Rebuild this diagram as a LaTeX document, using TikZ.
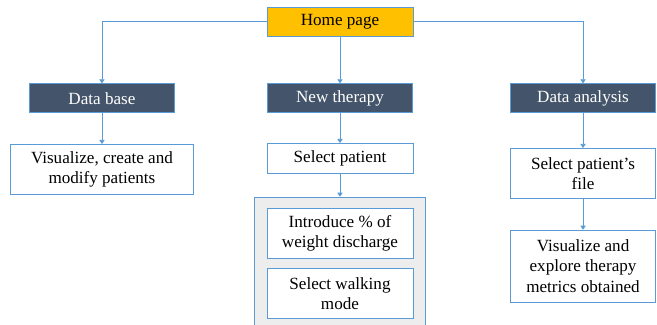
\documentclass[tikz,border=0pt]{standalone}
\usepackage{fontspec}
\setmainfont{Liberation Serif}
\usepackage{tikz}
\usetikzlibrary{positioning, arrows.meta}
\definecolor{homeyellow}{RGB}{255, 192, 0}
\definecolor{slatebox}{RGB}{68, 84, 106}
\definecolor{linkblue}{RGB}{91, 155, 213}
\definecolor{groupgrey}{RGB}{237, 237, 237}

\begin{document}
\begin{tikzpicture}[
  font=\fontsize{14.6}{17.5}\selectfont,
  node distance=9mm,
  menubox/.style={draw=linkblue, line width=0.6pt, fill=slatebox, text=white,
    align=center, minimum width=4.36cm, minimum height=0.87cm, inner sep=1pt},
  taskbox/.style={draw=linkblue, line width=0.6pt, fill=white, align=center,
    minimum width=4.38cm, inner sep=1pt},
  link/.style={draw=linkblue, line width=0.6pt, -{Triangle[width=4.5pt,length=3.5pt]}}
]
  \useasboundingbox (-10.2,0.645) rectangle (9.51,-9.075);

  \node[menubox, fill=homeyellow, text=black, minimum width=4.38cm] (home) at (0,0) {Home page};
  \node[menubox, below=1.41cm of home] (nt) {New therapy};
  \node[menubox, left=2.76cm of nt] (db) {Data base};
  \node[menubox, right=2.91cm of nt] (da) {Data analysis};

  \node[taskbox, minimum width=5.49cm, minimum height=1.5cm, below=0.93cm of db] (vis)
    {Visualize, create and\\modify patients};
  \node[taskbox, minimum height=0.9cm, below=0.9cm of nt] (sel) {Select patient};
  \node[draw=linkblue, line width=0.6pt, fill=groupgrey, minimum width=5.13cm,
        minimum height=4.2cm, below=0.69cm of sel] (grp) {};
  \node[taskbox, minimum height=1.5cm, below=0.33cm of grp.north] (intro)
    {Introduce \% of\\weight discharge};
  \node[taskbox, minimum height=1.5cm, below=0.3cm of intro] (walk)
    {Select walking\\mode};
  \node[taskbox, minimum width=4.35cm, minimum height=1.5cm, below=1.05cm of da] (file)
    {Select patient’s\\file};
  \node[taskbox, minimum width=4.35cm, minimum height=2.16cm, below=0.93cm of file] (met)
    {Visualize and\\explore therapy\\metrics obtained};

  \draw[link] (home.west) -| (db.north);
  \draw[link] (home.east) -| (da.north);
  \draw[link] (home) -- (nt);
  \draw[link] (db) -- (vis);
  \draw[link] (nt) -- (sel);
  \draw[link] (sel) -- (grp);
  \draw[link] (da) -- (file);
  \draw[link] (file) -- (met);
\end{tikzpicture}
\end{document}
